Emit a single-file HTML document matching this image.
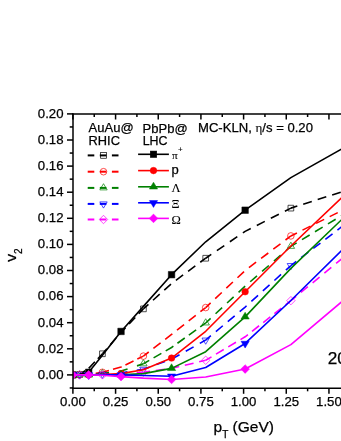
<!DOCTYPE html>
<html><head><meta charset="utf-8"><title>v2 vs pT</title>
<style>
html,body{margin:0;padding:0;background:#ffffff;}
body{width:341px;height:441px;overflow:hidden;font-family:"Liberation Sans",sans-serif;}
svg{display:block;will-change:transform;}
text{font-family:"Liberation Sans",sans-serif;fill:#000;stroke:#000;stroke-width:0.25px;}
.ser{font-family:"Liberation Serif",serif;stroke-width:0.1px;}
</style></head><body>
<svg width="341" height="441" viewBox="0 0 341 441">
<rect x="0" y="0" width="341" height="441" fill="#ffffff"/>

<defs><clipPath id="pc"><rect x="73.0" y="114.0" width="400" height="274.3"/></clipPath></defs>
<g clip-path="url(#pc)" fill="none" stroke-linejoin="round">
<path d="M79.56,374.51 L88.69,368.38 L102.43,353.76" stroke="#000000" stroke-width="1.6" stroke-dasharray="6.75 4.28 9.00 4.28 8.75 0.00"/>
<path d="M102.43,353.76 L121.04,332.49 L143.40,308.87" stroke="#000000" stroke-width="1.6" stroke-dasharray="6.75 5.07 9.00 5.07 9.00 5.07 9.00 5.07 8.75 0.00"/>
<path d="M143.40,308.87 L171.56,283.55 L205.70,258.23" stroke="#000000" stroke-width="1.6" stroke-dasharray="6.75 6.17 9.00 6.17 9.00 6.17 9.00 6.17 9.00 6.17 8.75 0.00"/>
<path d="M205.70,258.23 L245.14,231.35 L290.88,208.12" stroke="#000000" stroke-width="1.6" stroke-dasharray="6.75 6.76 9.00 6.76 9.00 6.76 9.00 6.76 9.00 6.76 9.00 6.76 8.75 0.00"/>
<path d="M290.88,208.12 L342.61,191.55" stroke="#000000" stroke-width="1.6" stroke-dasharray="6.75 6.2 9.0 6.2 9.0 6.2 9.0 6.2"/>
<path d="M79.56,374.51 L72.90,374.90" stroke="#000000" stroke-width="1.6" stroke-dasharray="6.75 6.2 9.0 6.2"/>
<rect x="76.71" y="371.66" width="5.70" height="5.70" fill="none" stroke="#000000" stroke-width="0.7"/>
<rect x="99.58" y="350.91" width="5.70" height="5.70" fill="none" stroke="#000000" stroke-width="0.7"/>
<rect x="140.55" y="306.02" width="5.70" height="5.70" fill="none" stroke="#000000" stroke-width="0.7"/>
<rect x="202.85" y="255.38" width="5.70" height="5.70" fill="none" stroke="#000000" stroke-width="0.7"/>
<rect x="288.03" y="205.27" width="5.70" height="5.70" fill="none" stroke="#000000" stroke-width="0.7"/>
<path d="M79.56,374.90 L88.69,374.51 L102.43,372.29" stroke="#ff0000" stroke-width="1.6" stroke-dasharray="6.75 9.56 8.75 0.00"/>
<path d="M102.43,372.29 L121.04,367.07 L143.40,356.11" stroke="#ff0000" stroke-width="1.6" stroke-dasharray="6.75 4.24 9.00 4.24 9.00 4.24 8.75 0.00"/>
<path d="M143.40,356.11 L171.56,334.44 L205.70,307.56" stroke="#ff0000" stroke-width="1.6" stroke-dasharray="6.75 5.90 9.00 5.90 9.00 5.90 9.00 5.90 9.00 5.90 8.75 0.00"/>
<path d="M205.70,307.56 L245.14,270.50 L290.88,235.92" stroke="#ff0000" stroke-width="1.6" stroke-dasharray="6.75 6.28 9.00 6.28 9.00 6.28 9.00 6.28 9.00 6.28 9.00 6.28 9.00 6.28 8.75 0.00"/>
<path d="M290.88,235.92 L342.61,210.21" stroke="#ff0000" stroke-width="1.6" stroke-dasharray="6.75 6.2 9.0 6.2 9.0 6.2 9.0 6.2"/>
<path d="M79.56,374.90 L72.90,374.90" stroke="#ff0000" stroke-width="1.6" stroke-dasharray="6.75 6.2 9.0 6.2"/>
<circle cx="79.56" cy="374.90" r="3.3" fill="none" stroke="#ff0000" stroke-width="0.7"/>
<circle cx="102.43" cy="372.29" r="3.3" fill="none" stroke="#ff0000" stroke-width="0.7"/>
<circle cx="143.40" cy="356.11" r="3.3" fill="none" stroke="#ff0000" stroke-width="0.7"/>
<circle cx="205.70" cy="307.56" r="3.3" fill="none" stroke="#ff0000" stroke-width="0.7"/>
<circle cx="290.88" cy="235.92" r="3.3" fill="none" stroke="#ff0000" stroke-width="0.7"/>
<path d="M79.56,374.90 L88.69,374.90 L102.43,373.59" stroke="#008000" stroke-width="1.6" stroke-dasharray="6.75 9.44 8.75 0.00"/>
<path d="M102.43,373.59 L121.04,370.98 L143.40,363.81" stroke="#008000" stroke-width="1.6" stroke-dasharray="6.75 9.89 9.00 9.89 8.75 0.00"/>
<path d="M143.40,363.81 L171.56,347.50 L205.70,322.96" stroke="#008000" stroke-width="1.6" stroke-dasharray="6.75 5.02 9.00 5.02 9.00 5.02 9.00 5.02 9.00 5.02 8.75 0.00"/>
<path d="M205.70,322.96 L245.14,286.16 L290.88,246.36" stroke="#008000" stroke-width="1.6" stroke-dasharray="6.75 6.73 9.00 6.73 9.00 6.73 9.00 6.73 9.00 6.73 9.00 6.73 9.00 6.73 8.75 0.00"/>
<path d="M290.88,246.36 L342.61,215.04" stroke="#008000" stroke-width="1.6" stroke-dasharray="6.75 6.2 9.0 6.2 9.0 6.2 9.0 6.2"/>
<path d="M79.56,374.90 L72.90,374.90" stroke="#008000" stroke-width="1.6" stroke-dasharray="6.75 6.2 9.0 6.2"/>
<polygon points="79.56,370.70 83.26,376.90 75.86,376.90" fill="none" stroke="#008000" stroke-width="0.7"/>
<polygon points="102.43,369.39 106.13,375.59 98.73,375.59" fill="none" stroke="#008000" stroke-width="0.7"/>
<polygon points="143.40,359.61 147.10,365.81 139.70,365.81" fill="none" stroke="#008000" stroke-width="0.7"/>
<polygon points="205.70,318.76 209.40,324.96 202.00,324.96" fill="none" stroke="#008000" stroke-width="0.7"/>
<polygon points="290.88,242.16 294.58,248.36 287.18,248.36" fill="none" stroke="#008000" stroke-width="0.7"/>
<path d="M79.56,374.90 L88.69,374.90 L102.43,374.25" stroke="#0000ff" stroke-width="1.6" stroke-dasharray="6.75 9.39 8.75 0.00"/>
<path d="M102.43,374.25 L121.04,372.94 L143.40,369.29" stroke="#0000ff" stroke-width="1.6" stroke-dasharray="6.75 9.41 9.00 9.41 8.75 0.00"/>
<path d="M143.40,369.29 L171.56,359.24 L205.70,340.06" stroke="#0000ff" stroke-width="1.6" stroke-dasharray="6.75 7.14 9.00 7.14 9.00 7.14 9.00 7.14 8.75 0.00"/>
<path d="M205.70,340.06 L245.14,307.04 L290.88,265.54" stroke="#0000ff" stroke-width="1.6" stroke-dasharray="6.75 6.53 9.00 6.53 9.00 6.53 9.00 6.53 9.00 6.53 9.00 6.53 9.00 6.53 8.75 0.00"/>
<path d="M290.88,265.54 L342.61,226.13" stroke="#0000ff" stroke-width="1.6" stroke-dasharray="6.75 6.2 9.0 6.2 9.0 6.2 9.0 6.2"/>
<path d="M79.56,374.90 L72.90,374.90" stroke="#0000ff" stroke-width="1.6" stroke-dasharray="6.75 6.2 9.0 6.2"/>
<polygon points="75.86,372.90 83.26,372.90 79.56,379.10" fill="none" stroke="#0000ff" stroke-width="0.7"/>
<polygon points="98.73,372.25 106.13,372.25 102.43,378.45" fill="none" stroke="#0000ff" stroke-width="0.7"/>
<polygon points="139.70,367.29 147.10,367.29 143.40,373.49" fill="none" stroke="#0000ff" stroke-width="0.7"/>
<polygon points="202.00,338.06 209.40,338.06 205.70,344.26" fill="none" stroke="#0000ff" stroke-width="0.7"/>
<polygon points="287.18,263.54 294.58,263.54 290.88,269.74" fill="none" stroke="#0000ff" stroke-width="0.7"/>
<path d="M79.56,374.90 L88.69,374.90 L102.43,374.90" stroke="#ff00ff" stroke-width="1.6" stroke-dasharray="6.75 9.37 8.75 0.00"/>
<path d="M102.43,374.90 L121.04,374.25 L143.40,372.29" stroke="#ff00ff" stroke-width="1.6" stroke-dasharray="6.75 9.28 9.00 9.28 8.75 0.00"/>
<path d="M143.40,372.29 L171.56,368.38 L205.70,360.28" stroke="#ff00ff" stroke-width="1.6" stroke-dasharray="6.75 5.76 9.00 5.76 9.00 5.76 9.00 5.76 8.75 0.00"/>
<path d="M205.70,360.28 L245.14,336.79 L290.88,300.65" stroke="#ff00ff" stroke-width="1.6" stroke-dasharray="6.75 5.24 9.00 5.24 9.00 5.24 9.00 5.24 9.00 5.24 9.00 5.24 9.00 5.24 8.75 0.00"/>
<path d="M290.88,300.65 L342.61,258.10" stroke="#ff00ff" stroke-width="1.6" stroke-dasharray="6.75 6.2 9.0 6.2 9.0 6.2 9.0 6.2"/>
<path d="M79.56,374.90 L72.90,374.90" stroke="#ff00ff" stroke-width="1.6" stroke-dasharray="6.75 6.2 9.0 6.2"/>
<polygon points="79.56,370.70 83.76,374.90 79.56,379.10 75.36,374.90" fill="none" stroke="#ff00ff" stroke-width="0.7"/>
<polygon points="102.43,370.70 106.63,374.90 102.43,379.10 98.23,374.90" fill="none" stroke="#ff00ff" stroke-width="0.7"/>
<polygon points="143.40,368.09 147.60,372.29 143.40,376.49 139.20,372.29" fill="none" stroke="#ff00ff" stroke-width="0.7"/>
<polygon points="205.70,356.08 209.90,360.28 205.70,364.48 201.50,360.28" fill="none" stroke="#ff00ff" stroke-width="0.7"/>
<polygon points="290.88,296.45 295.08,300.65 290.88,304.85 286.68,300.65" fill="none" stroke="#ff00ff" stroke-width="0.7"/>
<polyline points="72.90,374.90 79.56,374.64 88.69,372.29 102.43,355.32 121.04,331.44 143.40,306.39 171.56,274.68 205.70,241.79 245.14,210.21 290.88,177.58 342.61,148.48" stroke="#000000" stroke-width="1.6" fill="none"/>
<rect x="69.65" y="371.65" width="6.50" height="6.50" fill="#000000" stroke="#000000" stroke-width="0.5"/>
<rect x="85.44" y="369.04" width="6.50" height="6.50" fill="#000000" stroke="#000000" stroke-width="0.5"/>
<rect x="117.79" y="328.19" width="6.50" height="6.50" fill="#000000" stroke="#000000" stroke-width="0.5"/>
<rect x="168.31" y="271.43" width="6.50" height="6.50" fill="#000000" stroke="#000000" stroke-width="0.5"/>
<rect x="241.89" y="206.96" width="6.50" height="6.50" fill="#000000" stroke="#000000" stroke-width="0.5"/>
<polyline points="72.90,374.90 79.56,374.90 88.69,374.90 102.43,374.51 121.04,373.59 143.40,369.68 171.56,358.07 205.70,331.31 245.14,291.77 290.88,245.97 342.61,196.77" stroke="#ff0000" stroke-width="1.6" fill="none"/>
<circle cx="72.90" cy="374.90" r="3.3" fill="#ff0000" stroke="#ff0000" stroke-width="0.5"/>
<circle cx="88.69" cy="374.90" r="3.3" fill="#ff0000" stroke="#ff0000" stroke-width="0.5"/>
<circle cx="121.04" cy="373.59" r="3.3" fill="#ff0000" stroke="#ff0000" stroke-width="0.5"/>
<circle cx="171.56" cy="358.07" r="3.3" fill="#ff0000" stroke="#ff0000" stroke-width="0.5"/>
<circle cx="245.14" cy="291.77" r="3.3" fill="#ff0000" stroke="#ff0000" stroke-width="0.5"/>
<polyline points="72.90,374.90 79.56,374.90 88.69,374.90 102.43,374.90 121.04,374.90 143.40,373.59 171.56,368.38 205.70,351.67 245.14,316.83 290.88,268.41 342.61,218.69" stroke="#008000" stroke-width="1.6" fill="none"/>
<polygon points="72.90,370.30 77.00,377.10 68.80,377.10" fill="#008000" stroke="#008000" stroke-width="0.5"/>
<polygon points="88.69,370.30 92.79,377.10 84.59,377.10" fill="#008000" stroke="#008000" stroke-width="0.5"/>
<polygon points="121.04,370.30 125.14,377.10 116.94,377.10" fill="#008000" stroke="#008000" stroke-width="0.5"/>
<polygon points="171.56,363.77 175.66,370.57 167.46,370.57" fill="#008000" stroke="#008000" stroke-width="0.5"/>
<polygon points="245.14,312.23 249.24,319.03 241.04,319.03" fill="#008000" stroke="#008000" stroke-width="0.5"/>
<polyline points="72.90,374.90 79.56,374.90 88.69,374.90 102.43,374.90 121.04,374.90 143.40,375.55 171.56,376.20 205.70,367.46 245.14,343.45 290.88,300.51 342.61,249.49" stroke="#0000ff" stroke-width="1.6" fill="none"/>
<polygon points="68.80,372.70 77.00,372.70 72.90,379.50" fill="#0000ff" stroke="#0000ff" stroke-width="0.5"/>
<polygon points="84.59,372.70 92.79,372.70 88.69,379.50" fill="#0000ff" stroke="#0000ff" stroke-width="0.5"/>
<polygon points="116.94,372.70 125.14,372.70 121.04,379.50" fill="#0000ff" stroke="#0000ff" stroke-width="0.5"/>
<polygon points="167.46,374.00 175.66,374.00 171.56,380.81" fill="#0000ff" stroke="#0000ff" stroke-width="0.5"/>
<polygon points="241.04,341.25 249.24,341.25 245.14,348.05" fill="#0000ff" stroke="#0000ff" stroke-width="0.5"/>
<polyline points="72.90,374.90 79.56,374.90 88.69,374.90 102.43,375.29 121.04,376.60 143.40,378.16 171.56,379.47 205.70,376.99 245.14,369.03 290.88,344.62 342.61,301.04" stroke="#ff00ff" stroke-width="1.6" fill="none"/>
<polygon points="72.90,370.55 77.25,374.90 72.90,379.25 68.55,374.90" fill="#ff00ff" stroke="#ff00ff" stroke-width="0.5"/>
<polygon points="88.69,370.55 93.04,374.90 88.69,379.25 84.34,374.90" fill="#ff00ff" stroke="#ff00ff" stroke-width="0.5"/>
<polygon points="121.04,372.25 125.39,376.60 121.04,380.95 116.69,376.60" fill="#ff00ff" stroke="#ff00ff" stroke-width="0.5"/>
<polygon points="171.56,375.12 175.91,379.47 171.56,383.82 167.21,379.47" fill="#ff00ff" stroke="#ff00ff" stroke-width="0.5"/>
<polygon points="245.14,364.68 249.49,369.03 245.14,373.38 240.79,369.03" fill="#ff00ff" stroke="#ff00ff" stroke-width="0.5"/>
</g>
<g stroke="#000" stroke-width="1.5" fill="none" stroke-linecap="butt">
<line x1="73.0" y1="113.25" x2="73.0" y2="389.05"/>
<line x1="72.25" y1="114.0" x2="341" y2="114.0"/>
<line x1="72.25" y1="388.3" x2="341" y2="388.3"/>
<line x1="72.90" y1="388.3" x2="72.90" y2="393.8"/>
<line x1="72.90" y1="114.0" x2="72.90" y2="119.5"/>
<line x1="94.24" y1="388.3" x2="94.24" y2="391.3"/>
<line x1="94.24" y1="114.0" x2="94.24" y2="117.0"/>
<line x1="115.58" y1="388.3" x2="115.58" y2="393.8"/>
<line x1="115.58" y1="114.0" x2="115.58" y2="119.5"/>
<line x1="136.91" y1="388.3" x2="136.91" y2="391.3"/>
<line x1="136.91" y1="114.0" x2="136.91" y2="117.0"/>
<line x1="158.25" y1="388.3" x2="158.25" y2="393.8"/>
<line x1="158.25" y1="114.0" x2="158.25" y2="119.5"/>
<line x1="179.59" y1="388.3" x2="179.59" y2="391.3"/>
<line x1="179.59" y1="114.0" x2="179.59" y2="117.0"/>
<line x1="200.92" y1="388.3" x2="200.92" y2="393.8"/>
<line x1="200.92" y1="114.0" x2="200.92" y2="119.5"/>
<line x1="222.26" y1="388.3" x2="222.26" y2="391.3"/>
<line x1="222.26" y1="114.0" x2="222.26" y2="117.0"/>
<line x1="243.60" y1="388.3" x2="243.60" y2="393.8"/>
<line x1="243.60" y1="114.0" x2="243.60" y2="119.5"/>
<line x1="264.94" y1="388.3" x2="264.94" y2="391.3"/>
<line x1="264.94" y1="114.0" x2="264.94" y2="117.0"/>
<line x1="286.27" y1="388.3" x2="286.27" y2="393.8"/>
<line x1="286.27" y1="114.0" x2="286.27" y2="119.5"/>
<line x1="307.61" y1="388.3" x2="307.61" y2="391.3"/>
<line x1="307.61" y1="114.0" x2="307.61" y2="117.0"/>
<line x1="328.95" y1="388.3" x2="328.95" y2="393.8"/>
<line x1="328.95" y1="114.0" x2="328.95" y2="119.5"/>
<line x1="69.7" y1="387.95" x2="73.0" y2="387.95"/>
<line x1="67.0" y1="374.90" x2="73.0" y2="374.90"/>
<line x1="69.7" y1="361.85" x2="73.0" y2="361.85"/>
<line x1="67.0" y1="348.80" x2="73.0" y2="348.80"/>
<line x1="69.7" y1="335.75" x2="73.0" y2="335.75"/>
<line x1="67.0" y1="322.70" x2="73.0" y2="322.70"/>
<line x1="69.7" y1="309.65" x2="73.0" y2="309.65"/>
<line x1="67.0" y1="296.60" x2="73.0" y2="296.60"/>
<line x1="69.7" y1="283.55" x2="73.0" y2="283.55"/>
<line x1="67.0" y1="270.50" x2="73.0" y2="270.50"/>
<line x1="69.7" y1="257.45" x2="73.0" y2="257.45"/>
<line x1="67.0" y1="244.40" x2="73.0" y2="244.40"/>
<line x1="69.7" y1="231.35" x2="73.0" y2="231.35"/>
<line x1="67.0" y1="218.30" x2="73.0" y2="218.30"/>
<line x1="69.7" y1="205.25" x2="73.0" y2="205.25"/>
<line x1="67.0" y1="192.20" x2="73.0" y2="192.20"/>
<line x1="69.7" y1="179.15" x2="73.0" y2="179.15"/>
<line x1="67.0" y1="166.10" x2="73.0" y2="166.10"/>
<line x1="69.7" y1="153.05" x2="73.0" y2="153.05"/>
<line x1="67.0" y1="140.00" x2="73.0" y2="140.00"/>
<line x1="69.7" y1="126.95" x2="73.0" y2="126.95"/>
<line x1="67.0" y1="113.90" x2="73.0" y2="113.90"/>
</g>
<g font-size="13.2px">
<text x="63.5" y="378.75" text-anchor="end">0.00</text>
<text x="63.5" y="352.65" text-anchor="end">0.02</text>
<text x="63.5" y="326.55" text-anchor="end">0.04</text>
<text x="63.5" y="300.45" text-anchor="end">0.06</text>
<text x="63.5" y="274.35" text-anchor="end">0.08</text>
<text x="63.5" y="248.25" text-anchor="end">0.10</text>
<text x="63.5" y="222.15" text-anchor="end">0.12</text>
<text x="63.5" y="196.05" text-anchor="end">0.14</text>
<text x="63.5" y="169.95" text-anchor="end">0.16</text>
<text x="63.5" y="143.85" text-anchor="end">0.18</text>
<text x="63.5" y="117.75" text-anchor="end">0.20</text>
<text x="72.90" y="406.2" text-anchor="middle">0.00</text>
<text x="115.58" y="406.2" text-anchor="middle">0.25</text>
<text x="158.25" y="406.2" text-anchor="middle">0.50</text>
<text x="200.92" y="406.2" text-anchor="middle">0.75</text>
<text x="243.60" y="406.2" text-anchor="middle">1.00</text>
<text x="286.27" y="406.2" text-anchor="middle">1.25</text>
<text x="328.95" y="406.2" text-anchor="middle">1.50</text>
<text x="371.62" y="406.2" text-anchor="middle">1.75</text>
</g>
<text font-size="15.5px" x="213.5" y="431.9">p<tspan font-size="10px" dy="6.0">T</tspan><tspan dy="-6.0"> (GeV)</tspan></text>
<text font-size="15.5px" transform="translate(15.5,261.8) rotate(-90)">v<tspan font-size="10px" dy="6.6">2</tspan></text>
<text font-size="17.2px" x="327.8" y="363.9">20-30%</text>
<g font-size="13px">
<text x="88.6" y="131.8">AuAu@</text>
<text x="88.6" y="144.8" font-size="12.8px">RHIC</text>
<text x="142.6" y="133.4">PbPb@</text>
<text x="142.7" y="144.8" font-size="12.4px">LHC</text>
<text font-size="13.1px" x="198.0" y="132.2">MC-KLN, <tspan class="ser">η</tspan>/s = 0.20</text>
</g>
<line x1="87.7" y1="155.4" x2="94.3" y2="155.4" stroke="#000000" stroke-width="2"/>
<line x1="111.9" y1="155.4" x2="118.5" y2="155.4" stroke="#000000" stroke-width="2"/>
<line x1="99.8" y1="155.4" x2="106.4" y2="155.4" stroke="#000000" stroke-width="2"/>
<rect x="100.65" y="152.55" width="5.70" height="5.70" fill="none" stroke="#000000" stroke-width="0.7"/>
<line x1="138.1" y1="154.30" x2="168.9" y2="154.30" stroke="#000000" stroke-width="1.6"/>
<rect x="150.25" y="151.05" width="6.50" height="6.50" fill="#000000" stroke="#000000" stroke-width="0.5"/>
<text class="ser" font-size="11.3px" x="171.9" y="159.00">π<tspan font-family="Liberation Sans" font-size="8px" dx="0.5" dy="-7.0">+</tspan></text>
<line x1="87.7" y1="171.7" x2="94.3" y2="171.7" stroke="#ff0000" stroke-width="2"/>
<line x1="111.9" y1="171.7" x2="118.5" y2="171.7" stroke="#ff0000" stroke-width="2"/>
<line x1="99.8" y1="171.7" x2="106.4" y2="171.7" stroke="#ff0000" stroke-width="2"/>
<circle cx="103.50" cy="171.70" r="3.3" fill="none" stroke="#ff0000" stroke-width="0.7"/>
<line x1="138.1" y1="170.60" x2="168.9" y2="170.60" stroke="#ff0000" stroke-width="1.6"/>
<circle cx="153.50" cy="170.60" r="3.3" fill="#ff0000" stroke="#ff0000" stroke-width="0.5"/>
<text font-size="13px" x="171.6" y="174.30">p</text>
<line x1="87.7" y1="187.9" x2="94.3" y2="187.9" stroke="#008000" stroke-width="2"/>
<line x1="111.9" y1="187.9" x2="118.5" y2="187.9" stroke="#008000" stroke-width="2"/>
<line x1="99.8" y1="187.9" x2="106.4" y2="187.9" stroke="#008000" stroke-width="2"/>
<polygon points="103.50,183.70 107.20,189.90 99.80,189.90" fill="none" stroke="#008000" stroke-width="0.7"/>
<line x1="138.1" y1="186.80" x2="168.9" y2="186.80" stroke="#008000" stroke-width="1.6"/>
<polygon points="153.50,182.20 157.60,189.00 149.40,189.00" fill="#008000" stroke="#008000" stroke-width="0.5"/>
<text class="ser" font-size="12.5px" x="171.6" y="191.60">Λ</text>
<line x1="87.7" y1="203.9" x2="94.3" y2="203.9" stroke="#0000ff" stroke-width="2"/>
<line x1="111.9" y1="203.9" x2="118.5" y2="203.9" stroke="#0000ff" stroke-width="2"/>
<line x1="99.8" y1="203.9" x2="106.4" y2="203.9" stroke="#0000ff" stroke-width="2"/>
<polygon points="99.80,201.90 107.20,201.90 103.50,208.10" fill="none" stroke="#0000ff" stroke-width="0.7"/>
<line x1="138.1" y1="202.80" x2="168.9" y2="202.80" stroke="#0000ff" stroke-width="1.6"/>
<polygon points="149.40,200.60 157.60,200.60 153.50,207.40" fill="#0000ff" stroke="#0000ff" stroke-width="0.5"/>
<text class="ser" font-size="12.5px" x="171.6" y="207.60">Ξ</text>
<line x1="87.7" y1="219.5" x2="94.3" y2="219.5" stroke="#ff00ff" stroke-width="2"/>
<line x1="111.9" y1="219.5" x2="118.5" y2="219.5" stroke="#ff00ff" stroke-width="2"/>
<line x1="99.8" y1="219.5" x2="106.4" y2="219.5" stroke="#ff00ff" stroke-width="2"/>
<polygon points="103.50,215.30 107.70,219.50 103.50,223.70 99.30,219.50" fill="none" stroke="#ff00ff" stroke-width="0.7"/>
<line x1="138.1" y1="218.40" x2="168.9" y2="218.40" stroke="#ff00ff" stroke-width="1.6"/>
<polygon points="153.50,214.05 157.85,218.40 153.50,222.75 149.15,218.40" fill="#ff00ff" stroke="#ff00ff" stroke-width="0.5"/>
<text class="ser" font-size="12.5px" x="171.6" y="223.80">Ω</text>
</svg>
</body></html>
